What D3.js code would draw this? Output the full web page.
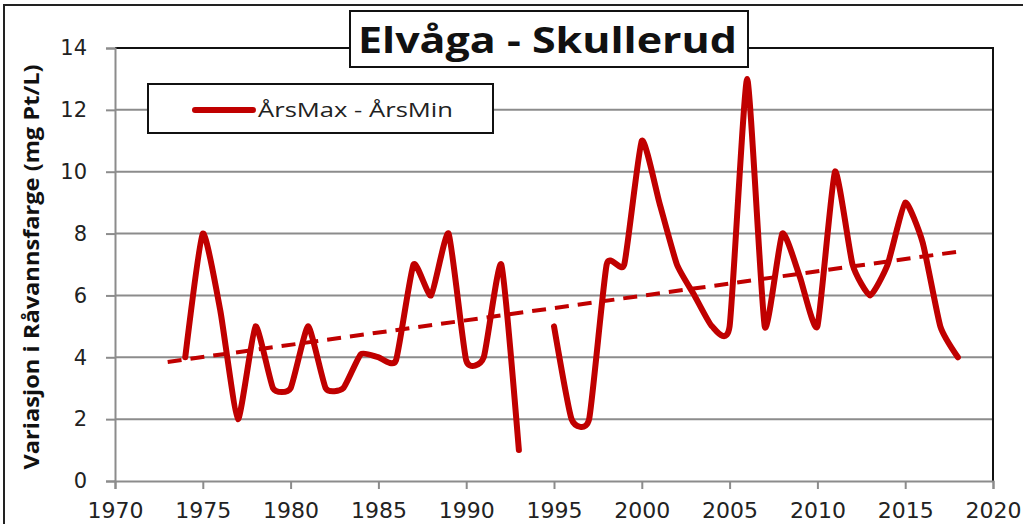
<!DOCTYPE html>
<html>
<head>
<meta charset="utf-8">
<script src="https://cdn.jsdelivr.net/npm/d3@7"></script>
<style>
  body { margin: 0; background: #fff; }
  svg { display: block; }
</style>
</head>
<body>
<svg id="chart" width="1023" height="524"></svg>
<script>
// data
const years = [1974, 1975, 1976, 1977, 1978, 1979, 1980, 1981, 1982, 1983,
  1984, 1985, 1986, 1987, 1988, 1989, 1990, 1991, 1992, 1993,
  1994, 1995, 1996, 1997, 1998, 1999, 2000, 2001, 2002, 2003,
  2004, 2005, 2006, 2007, 2008, 2009, 2010, 2011, 2012, 2013,
  2014, 2015, 2016, 2017, 2018];
const spread = [4, 8, 5.5, 2, 5, 3, 3, 5, 3, 3,
  4.1, 4, 3.9, 7, 6, 8, 3.9, 4, 7, 1,
  null, 5, 2, 2, 7, 7, 11, 9, 7, 6,
  5, 5, 13, 5, 8, 6.6, 5, 10, 7, 6,
  7, 9, 7.7, 5, 4];
const trendYears = [1973, 2018];
const xTicks = [1970, 1975, 1980, 1985, 1990, 1995, 2000, 2005, 2010, 2015, 2020];
const yTicks = [0, 2, 4, 6, 8, 10, 12, 14];

const title = "Elvåga - Skullerud";
const seriesName = "ÅrsMax - ÅrsMin";
const yLabel = "Variasjon i Råvannsfarge (mg Pt/L)";

const red = "#C00000";
const grid = "#8c8c8c";
const tickFont = "'DejaVu Sans', sans-serif";
const boxFont = "'Open Sans', sans-serif";

const svg = d3.select("#chart");

const x = d3.scaleLinear().domain([1970, 2020]).range([115, 993]);
const y = d3.scaleLinear().domain([0, 14]).range([481, 48]);

// outer frame
svg.append("rect")
  .attr("x", 4).attr("y", 5)
  .attr("width", 1040).attr("height", 540)
  .attr("fill", "none")
  .attr("stroke", "#222")
  .attr("stroke-width", 2);

// grid lines
svg.append("g")
  .selectAll("line")
  .data(yTicks.filter(v => v > 0))
  .enter()
  .append("line")
  .attr("x1", x(1970)).attr("x2", x(2020))
  .attr("y1", d => y(d)).attr("y2", d => y(d))
  .attr("stroke", grid)
  .attr("stroke-width", 2);

// plot border on top and right
svg.append("path")
  .attr("d", `M${x(1970)},${y(14)}H${x(2020)}V${y(0)}`)
  .attr("fill", "none")
  .attr("stroke", "#111")
  .attr("stroke-width", 2);

// axes
const yAxis = svg.append("g")
  .attr("transform", `translate(${x(1970)},0)`)
  .call(d3.axisLeft(y).tickValues(yTicks).tickSize(9).tickPadding(19).tickFormat(d3.format("d")));
yAxis.select(".domain").attr("stroke", grid).attr("stroke-width", 2);
yAxis.selectAll(".tick line").attr("stroke", grid).attr("stroke-width", 2);
yAxis.selectAll("text")
  .style("font-family", tickFont)
  .style("font-size", "21px")
  .attr("fill", "#222");

const xAxis = svg.append("g")
  .attr("transform", `translate(0,${y(0)})`)
  .call(d3.axisBottom(x).tickValues(xTicks).tickSize(8).tickPadding(13).tickFormat(d3.format("d")));
xAxis.select(".domain").attr("stroke", grid).attr("stroke-width", 2);
xAxis.selectAll(".tick line").attr("stroke", grid).attr("stroke-width", 2);
xAxis.selectAll("text")
  .style("font-family", tickFont)
  .style("font-size", "22px")
  .attr("fill", "#222");

// series line (gap where value is missing)
const pts = years.map((yr, i) => ({ yr: yr, v: spread[i] }));
const line = d3.line()
  .defined(d => d.v != null)
  .x(d => x(d.yr))
  .y(d => y(d.v))
  .curve(d3.curveCardinal.tension(0.5));

svg.append("path")
  .datum(pts)
  .attr("d", line)
  .attr("fill", "none")
  .attr("stroke", red)
  .attr("stroke-width", 6)
  .attr("stroke-linejoin", "round")
  .attr("stroke-linecap", "round");

// linear trend line
const known = pts.filter(d => d.v != null);
const mx = d3.mean(known, d => d.yr);
const my = d3.mean(known, d => d.v);
const slope = d3.sum(known, d => (d.yr - mx) * (d.v - my)) / d3.sum(known, d => (d.yr - mx) ** 2);
const trend = trendYears.map(yr => ({ yr: yr, v: my + slope * (yr - mx) }));

svg.append("path")
  .datum(trend)
  .attr("d", d3.line().x(d => x(d.yr)).y(d => y(d.v)))
  .attr("fill", "none")
  .attr("stroke", red)
  .attr("stroke-width", 4)
  .attr("stroke-dasharray", "14,9");

// y label
svg.append("text")
  .attr("transform", "translate(39,267) rotate(-90)")
  .attr("text-anchor", "middle")
  .attr("textLength", 405)
  .attr("lengthAdjust", "spacingAndGlyphs")
  .style("font-family", boxFont)
  .style("font-size", "22px")
  .style("font-weight", "700")
  .attr("fill", "#111")
  .text(yLabel);

// legend
svg.append("rect")
  .attr("x", 148).attr("y", 84)
  .attr("width", 345).attr("height", 49)
  .attr("fill", "#fff")
  .attr("stroke", "#111")
  .attr("stroke-width", 2);
svg.append("line")
  .attr("x1", 195).attr("x2", 253)
  .attr("y1", 110).attr("y2", 110)
  .attr("stroke", red)
  .attr("stroke-width", 6)
  .attr("stroke-linecap", "round");
svg.append("text")
  .attr("x", 258).attr("y", 117)
  .attr("textLength", 195)
  .attr("lengthAdjust", "spacingAndGlyphs")
  .style("font-family", boxFont)
  .style("font-size", "20px")
  .attr("fill", "#222")
  .text(seriesName);

// title box
svg.append("rect")
  .attr("x", 350).attr("y", 11)
  .attr("width", 398).attr("height", 56)
  .attr("fill", "#fff")
  .attr("stroke", "#111")
  .attr("stroke-width", 2);
svg.append("text")
  .attr("x", 358).attr("y", 53)
  .attr("textLength", 379)
  .attr("lengthAdjust", "spacingAndGlyphs")
  .style("font-family", boxFont)
  .style("font-size", "35px")
  .style("font-weight", "700")
  .attr("fill", "#111")
  .text(title);
</script>
</body>
</html>
